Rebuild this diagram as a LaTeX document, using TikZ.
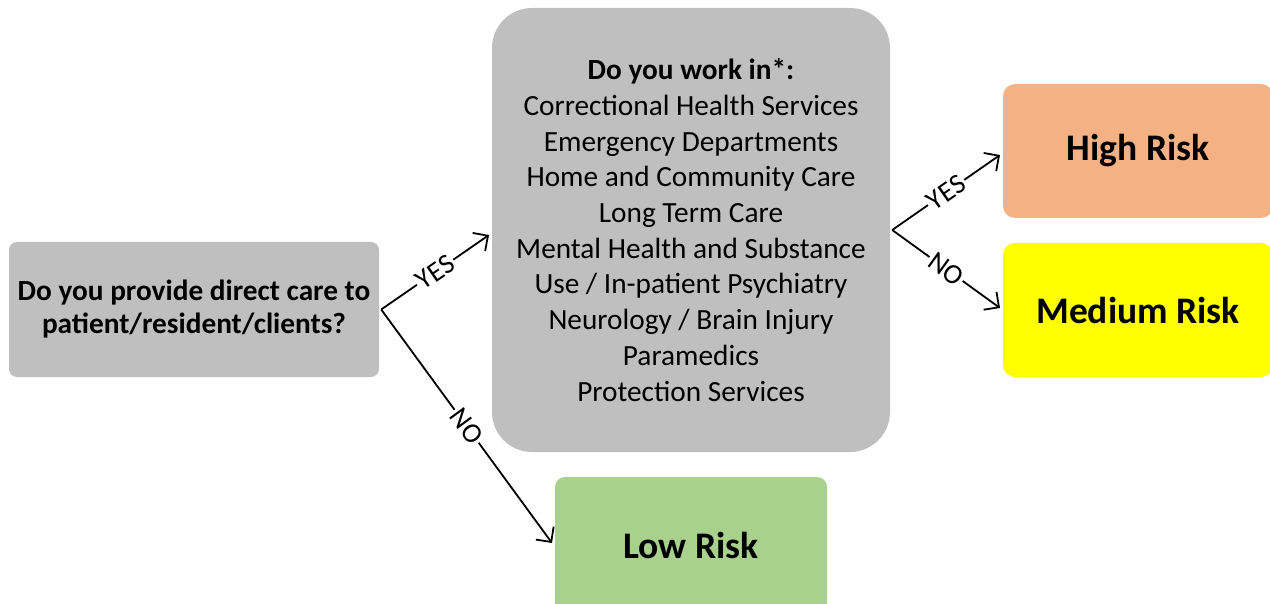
\documentclass[tikz,border=0pt]{standalone}
\usepackage{fontspec}
\setmainfont{Carlito}
\usetikzlibrary{arrows.meta,calc}
\definecolor{boxgray}{HTML}{BFBFBF}
\definecolor{highc}{HTML}{F4B183}
\definecolor{medc}{HTML}{FFFF00}
\definecolor{lowc}{HTML}{A9D18E}
\tikzset{
  box/.style={rectangle, fill=boxgray, draw=none, align=center, inner sep=0pt},
  conn/.style={line width=1.8pt, -{Straight Barb[length=11pt,width=22pt,line width=1.8pt]}},
  lbl/.style={sloped, fill=white, inner sep=2pt, font=\fontsize{28}{30}\selectfont},
}
\begin{document}
\begin{tikzpicture}[x=1pt,y=-1pt]
\useasboundingbox (0,0) rectangle (1270,604);
\node[box, rounded corners=8pt, minimum width=370pt, minimum height=135pt,
      font=\bfseries\fontsize{29.3}{33}\selectfont] (q1) at (194,309.5)
  {Do you provide direct care to\\patient/resident/clients?};
\node[box, rounded corners=40pt, minimum width=398pt, minimum height=444pt,
      font=\fontsize{29.3}{35.7}\selectfont] (q2) at (691,230)
  {\textbf{Do you work in*:}\\Correctional Health Services\\Emergency Departments\\Home and Community Care\\Long Term Care\\Mental Health and Substance\\Use / In-patient Psychiatry\\Neurology / Brain Injury\\Paramedics\\Protection Services};
\node[box, fill=highc, rounded corners=12pt, minimum width=270pt, minimum height=134pt,
      font=\bfseries\fontsize{37.5}{40}\selectfont] (high) at (1138,151) {High Risk};
\node[box, fill=medc, rounded corners=12pt, minimum width=270pt, minimum height=134pt,
      font=\bfseries\fontsize{37.5}{40}\selectfont] (med) at (1138,310) {Medium Risk};
\node[box, fill=lowc, rounded corners=10pt, minimum width=272pt, minimum height=136pt,
      font=\bfseries\fontsize{37.5}{40}\selectfont] (low) at (691,545) {Low Risk};
\coordinate (f1) at ($(q1.east)+(2,0)$);
\coordinate (f2) at ($(q2.east)+(2,0)$);
\coordinate (t2) at (489,235);
\coordinate (tl) at (552,543);
\coordinate (th) at (1000,155);
\coordinate (tm) at (1000,308);
\draw[conn] (f1) -- node[lbl] {YES} (t2);
\draw[conn] (f1) -- node[lbl] {NO} (tl);
\draw[conn] (f2) -- node[lbl] {YES} (th);
\draw[conn] (f2) -- node[lbl] {NO} (tm);
\end{tikzpicture}
\end{document}
